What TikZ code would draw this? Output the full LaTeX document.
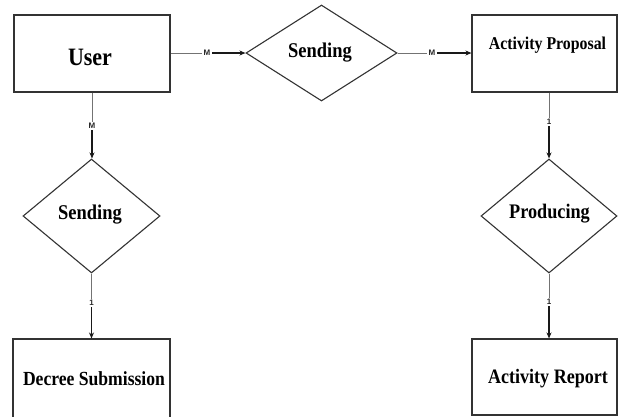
\documentclass[tikz,border=0pt]{standalone}
\usepackage{fontspec}
\setmainfont{Liberation Serif}
\newfontfamily\boxfont{Liberation Serif}[FakeStretch=0.88]
\newfontfamily\lblfont{Liberation Sans}
\usetikzlibrary{shapes.geometric,arrows.meta}
\begin{document}
\begin{tikzpicture}[x=1pt,y=-1pt,
  entity/.style={draw=black!80,line width=1.1pt,rectangle,inner sep=0pt},
  relation/.style={draw=black!80,line width=1.1pt,diamond,inner sep=0pt},
  title/.style={font=\boxfont\bfseries\fontsize{#1}{#1}\selectfont,inner sep=0pt},
  card/.style={font=\lblfont\bfseries\fontsize{8}{8}\selectfont,inner sep=1.5pt,text=black!85},
  faint/.style={draw=black!55,line width=0.8pt},
  strong/.style={draw=black!90,line width=1.2pt,-{Stealth[length=6pt,width=5pt]}}]

\useasboundingbox[fill=white] (0,0) rectangle (618,416);

% entities
\node[entity,minimum width=156pt,minimum height=77pt] (user) at (92,53.5) {};
\node[entity,minimum width=145pt,minimum height=77pt] (ap) at (544.5,53.5) {};
\node[entity,minimum width=157pt,minimum height=83pt] (dec) at (91.5,380.5) {};
\node[entity,minimum width=145pt,minimum height=76pt] (rep) at (544.5,377) {};

% relations
\node[relation,minimum width=151pt,minimum height=96pt] (s1) at (321.5,53) {};
\node[relation,minimum width=137pt,minimum height=114pt] (s2) at (91.5,216) {};
\node[relation,minimum width=136pt,minimum height=114pt] (pr) at (549,216) {};

% texts
\node[title=25] (userT) at (90,57.5) {User};
\node[title=18] (apT) at (547.5,45) {Activity Proposal};
\node[title=21] (s1T) at (320,53) {Sending};
\node[title=21] (s2T) at (90,215) {Sending};
\node[title=20.7] (prT) at (549.5,214) {Producing};
\node[title=20] (decT) at (94,378.5) {Decree Submission};
\node[title=20.5] (repT) at (548,379) {Activity Report};

% cardinality labels
\node[card] (m1) at (207,53) {M};
\node[card] (m2) at (432,53) {M};
\node[card] (m3) at (92,126) {M};
\node[card] (c1) at (549,122) {1};
\node[card] (c2) at (91.5,303) {1};
\node[card] (c3) at (549,302) {1};

% connectors
\draw[faint] (user.east |- m1) -- (m1.west);
\draw[strong] (m1.east) -- (m1.east -| s1.west);
\draw[faint] (s1.east |- m2) -- (m2.west);
\draw[strong] (m2.east) -- (m2.east -| ap.west);
\draw[faint] (m3 |- user.south) -- (m3.north);
\draw[strong] (m3.south) -- (m3.south |- s2.north);
\draw[faint] (s2.south) -- (c2.north);
\draw[strong] (c2.south) -- (c2.south |- dec.north);
\draw[faint] (pr.north |- ap.south) -- (c1.north);
\draw[strong] (c1.south) -- (pr.north);
\draw[faint] (pr.south) -- (c3.north);
\draw[strong] (c3.south) -- (c3.south |- rep.north);
\end{tikzpicture}
\end{document}
